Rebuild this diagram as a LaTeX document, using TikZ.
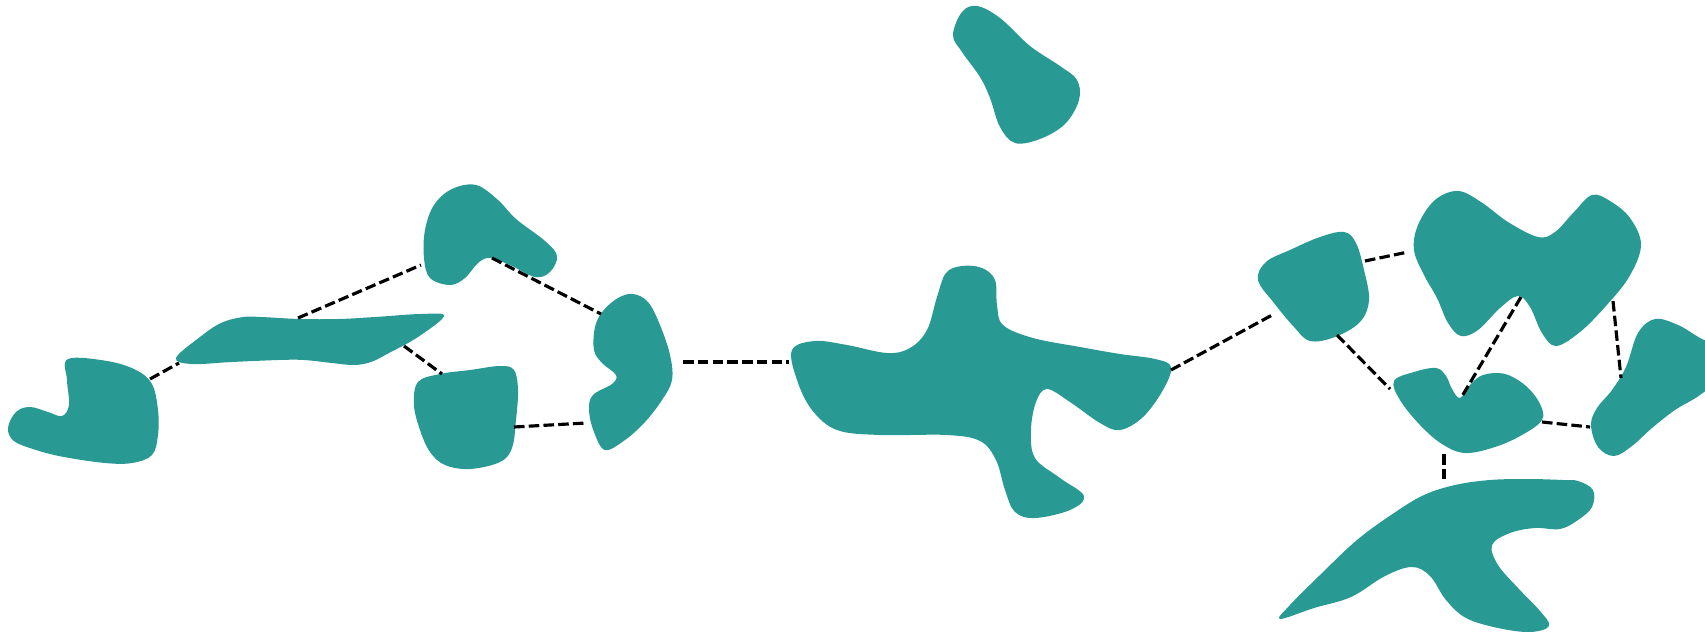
\documentclass[tikz,border=0pt]{standalone}
\usetikzlibrary{positioning}
\definecolor{teal}{RGB}{41,153,148}

\begin{document}
\begin{tikzpicture}[x=0.02cm, y=-0.02cm,
    blob/.style={fill=teal},
    link/.style={draw=black, line width=1.8pt, dash pattern=on 6pt off 2.4pt}]
    \useasboundingbox (0,0) rectangle (1705,632);
    \clip (0,0) rectangle (1705,632);

    % Left cluster
    \fill[blob] plot[smooth cycle, tension=0.6] coordinates {
        (68,359) (107,361) (136,370) (152,384) (158,410) (158,435) (152,455)
        (132,463) (105,463) (64,457) (36,450) (14,441) (8,428) (16,412)
        (30,407) (48,412) (62,416) (69,405) (67,380)};
    \fill[blob] plot[smooth cycle, tension=0.6] coordinates {
        (176,358) (200,337) (221,323) (243,317) (261,317) (300,319) (339,319)
        (375,317) (421,314) (444,316) (418,337) (389,353) (371,362) (354,365)
        (332,363) (304,360) (279,360) (232,362) (192,364)};
    \fill[blob] plot[smooth cycle, tension=0.6] coordinates {
        (476,185) (452,189) (434,205) (425,230) (424,258) (430,278) (450,285)
        (465,278) (478,263) (490,258) (510,265) (535,277) (550,272) (557,256)
        (545,241) (516,219) (498,200)};
    \fill[blob] plot[smooth cycle, tension=0.6] coordinates {
        (418,382) (440,374) (470,370) (500,366) (514,370) (518,390) (516,420)
        (512,448) (500,462) (470,469) (445,465) (430,452) (420,430) (414,405)};
    \fill[blob] plot[smooth cycle, tension=0.6] coordinates {
        (633,294) (648,302) (660,325) (670,355) (672,380) (662,400) (645,422)
        (625,440) (605,450) (594,432) (589,410) (593,395) (612,384) (616,375)
        (602,363) (594,350) (595,327) (603,311) (618,298)};

    % Central and top
    \fill[blob] plot[smooth cycle, tension=0.6] coordinates {
        (792,350) (815,341) (847,345) (887,353) (910,348) (927,330) (937,297)
        (946,273) (962,266) (982,268) (995,280) (997,305) (1003,325) (1033,338)
        (1080,347) (1120,354) (1155,359) (1171,367) (1163,390) (1143,417)
        (1120,430) (1100,423) (1070,402) (1047,389) (1036,402) (1031,430)
        (1035,458) (1060,478) (1084,496) (1070,510) (1035,518) (1015,512)
        (1005,490) (996,460) (980,441) (947,435) (880,435) (837,430) (812,410)
        (797,380)};
    \fill[blob] plot[smooth cycle, tension=0.6] coordinates {
        (977,6) (962,12) (953,35) (962,52) (980,77) (990,98) (1000,127)
        (1015,143) (1040,139) (1065,124) (1079,100) (1077,80) (1060,66)
        (1030,46) (1000,18)};

    % Right cluster
    \fill[blob] plot[smooth cycle, tension=0.6] coordinates {
        (1344,232) (1356,243) (1364,270) (1369,300) (1360,322) (1335,337)
        (1310,341) (1294,327) (1274,303) (1258,280) (1266,262) (1290,250)
        (1320,237)};
    \fill[blob] plot[smooth cycle, tension=0.6] coordinates {
        (1458,191) (1435,200) (1418,225) (1414,250) (1424,275) (1437,298)
        (1448,323) (1461,336) (1478,330) (1500,308) (1518,296) (1530,307)
        (1542,333) (1556,346) (1580,332) (1605,307) (1629,277) (1641,245)
        (1630,218) (1610,201) (1592,195) (1574,212) (1555,232) (1538,237)
        (1508,222) (1481,202)};
    \fill[blob] plot[smooth cycle, tension=0.6] coordinates {
        (1655,319) (1638,333) (1626,367) (1612,390) (1597,408) (1591,425)
        (1598,447) (1614,456) (1632,446) (1652,428) (1675,410) (1700,395)
        (1722,375) (1722,350) (1700,338) (1678,325)};
    \fill[blob] plot[smooth cycle, tension=0.6] coordinates {
        (1394,381) (1414,372) (1436,368) (1446,376) (1452,389) (1460,398)
        (1470,385) (1483,375) (1505,374) (1526,386) (1540,404) (1542,420)
        (1522,435) (1495,447) (1465,453) (1442,444) (1420,425) (1400,400)};
    \fill[blob] plot[smooth cycle, tension=0.6] coordinates {
        (1578,481) (1593,490) (1592,507) (1578,520) (1560,529) (1535,528)
        (1510,533) (1492,545) (1498,565) (1518,588) (1540,611) (1549,626)
        (1530,632) (1498,628) (1466,618) (1446,600) (1430,576) (1412,567)
        (1385,576) (1351,597) (1314,608) (1280,619) (1290,605) (1320,575)
        (1357,540) (1394,513) (1424,495) (1455,485) (1490,480) (1528,479)
        (1563,480)};

    % Link end points
    \coordinate (lboot) at (150,379);   \coordinate (lflatw) at (179,363);
    \coordinate (lflatn) at (298,318);  \coordinate (lpeaks) at (421,265);
    \coordinate (lflate) at (404,346);  \coordinate (lsqn) at (442,374);
    \coordinate (lpeake) at (492,258);  \coordinate (lcn) at (601,314);
    \coordinate (lsqe) at (514,427);    \coordinate (lcs) at (586,423);
    \coordinate (lce) at (683,362);     \coordinate (crossw) at (789,362);
    \coordinate (crosse) at (1171,370); \coordinate (rsqw) at (1274,314);
    \coordinate (rsqe) at (1365,261);   \coordinate (rwavew) at (1408,252);
    \coordinate (rsqs) at (1337,335);   \coordinate (rvw) at (1390,389);
    \coordinate (rwaves) at (1521,297); \coordinate (rvn) at (1461,398);
    \coordinate (rwavee) at (1613,301); \coordinate (redgen) at (1621,378);
    \coordinate (rve) at (1542,422);    \coordinate (redgew) at (1590,427);
    \coordinate (rvs) at (1444,454);    \coordinate (rhookn) at (1444,483);

    % Links
    \draw[link] (lboot) -- (lflatw);
    \draw[link] (lflatn) -- (lpeaks);
    \draw[link] (lflate) -- (lsqn);
    \draw[link] (lpeake) -- (lcn);
    \draw[link] (lsqe) -- (lcs);
    \draw[link] (lce) -- (crossw);
    \draw[link] (crosse) -- (rsqw);
    \draw[link] (rsqe) -- (rwavew);
    \draw[link] (rsqs) -- (rvw);
    \draw[link] (rwaves) -- (rvn);
    \draw[link] (rwavee) -- (redgen);
    \draw[link] (rve) -- (redgew);
    \draw[link] (rvs) -- (rhookn);
\end{tikzpicture}
\end{document}
